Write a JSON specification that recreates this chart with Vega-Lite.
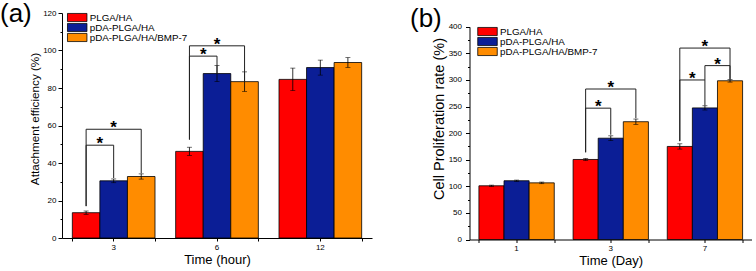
{
  "$schema": "https://vega.github.io/schema/vega-lite/v6.json",
  "autosize": {"type": "pad"},
  "padding": {"left": 0, "top": 0, "right": 0, "bottom": 0},
  "spacing": 97.5,
  "bounds": "flush",
  "background": "white",
  "datasets": {
    "barsA": [
      {"time": "3", "group": "PLGA/HA", "value": 13.5, "lo": 12.6, "hi": 14.4},
      {"time": "3", "group": "pDA-PLGA/HA", "value": 30.5, "lo": 29.5, "hi": 31.5},
      {"time": "3", "group": "pDA-PLGA/HA/BMP-7", "value": 32.8, "lo": 31.4, "hi": 34.2},
      {"time": "6", "group": "PLGA/HA", "value": 46.2, "lo": 44.0, "hi": 48.4},
      {"time": "6", "group": "pDA-PLGA/HA", "value": 87.7, "lo": 83.4, "hi": 92.0},
      {"time": "6", "group": "pDA-PLGA/HA/BMP-7", "value": 83.4, "lo": 78.2, "hi": 88.6},
      {"time": "12", "group": "PLGA/HA", "value": 84.6, "lo": 78.6, "hi": 90.6},
      {"time": "12", "group": "pDA-PLGA/HA", "value": 90.9, "lo": 86.9, "hi": 94.9},
      {"time": "12", "group": "pDA-PLGA/HA/BMP-7", "value": 93.6, "lo": 91.0, "hi": 96.2}
    ],
    "bracketsA": [
      {"time": "3", "br": "a1", "ord": 1, "group": "PLGA/HA", "y": 17},
      {"time": "3", "br": "a1", "ord": 2, "group": "PLGA/HA", "y": 49.5},
      {"time": "3", "br": "a1", "ord": 3, "group": "pDA-PLGA/HA", "y": 49.5},
      {"time": "3", "br": "a1", "ord": 4, "group": "pDA-PLGA/HA", "y": 32},
      {"time": "3", "br": "a2", "ord": 1, "group": "PLGA/HA", "y": 17},
      {"time": "3", "br": "a2", "ord": 2, "group": "PLGA/HA", "y": 58},
      {"time": "3", "br": "a2", "ord": 3, "group": "pDA-PLGA/HA/BMP-7", "y": 58},
      {"time": "3", "br": "a2", "ord": 4, "group": "pDA-PLGA/HA/BMP-7", "y": 34.5},
      {"time": "6", "br": "a3", "ord": 1, "group": "PLGA/HA", "y": 52.5},
      {"time": "6", "br": "a3", "ord": 2, "group": "PLGA/HA", "y": 97},
      {"time": "6", "br": "a3", "ord": 3, "group": "pDA-PLGA/HA", "y": 97},
      {"time": "6", "br": "a3", "ord": 4, "group": "pDA-PLGA/HA", "y": 87.7},
      {"time": "6", "br": "a4", "ord": 1, "group": "PLGA/HA", "y": 52.5},
      {"time": "6", "br": "a4", "ord": 2, "group": "PLGA/HA", "y": 102.5},
      {"time": "6", "br": "a4", "ord": 3, "group": "pDA-PLGA/HA/BMP-7", "y": 102.5},
      {"time": "6", "br": "a4", "ord": 4, "group": "pDA-PLGA/HA/BMP-7", "y": 83.4}
    ],
    "starsA": [
      {"time": "3", "pos": 0.5, "y": 49.5},
      {"time": "3", "pos": 1, "y": 58},
      {"time": "6", "pos": 0.5, "y": 97},
      {"time": "6", "pos": 1, "y": 102.5}
    ],
    "barsB": [
      {"time": "1", "group": "PLGA/HA", "value": 101, "lo": 99.8, "hi": 102.2},
      {"time": "1", "group": "pDA-PLGA/HA", "value": 110.5, "lo": 109.3, "hi": 111.7},
      {"time": "1", "group": "pDA-PLGA/HA/BMP-7", "value": 106.5, "lo": 105.0, "hi": 108.0},
      {"time": "3", "group": "PLGA/HA", "value": 150.5, "lo": 148.5, "hi": 152.5},
      {"time": "3", "group": "pDA-PLGA/HA", "value": 190.5, "lo": 186.0, "hi": 195.0},
      {"time": "3", "group": "pDA-PLGA/HA/BMP-7", "value": 221.5, "lo": 216.5, "hi": 226.5},
      {"time": "7", "group": "PLGA/HA", "value": 175, "lo": 170, "hi": 180},
      {"time": "7", "group": "pDA-PLGA/HA", "value": 247.5, "lo": 243.5, "hi": 251.5},
      {"time": "7", "group": "pDA-PLGA/HA/BMP-7", "value": 298.5, "lo": 296, "hi": 301}
    ],
    "bracketsB": [
      {"time": "3", "br": "b1", "ord": 1, "group": "PLGA/HA", "y": 164},
      {"time": "3", "br": "b1", "ord": 2, "group": "PLGA/HA", "y": 247},
      {"time": "3", "br": "b1", "ord": 3, "group": "pDA-PLGA/HA", "y": 247},
      {"time": "3", "br": "b1", "ord": 4, "group": "pDA-PLGA/HA", "y": 197},
      {"time": "3", "br": "b2", "ord": 1, "group": "PLGA/HA", "y": 164},
      {"time": "3", "br": "b2", "ord": 2, "group": "PLGA/HA", "y": 283},
      {"time": "3", "br": "b2", "ord": 3, "group": "pDA-PLGA/HA/BMP-7", "y": 283},
      {"time": "3", "br": "b2", "ord": 4, "group": "pDA-PLGA/HA/BMP-7", "y": 228},
      {"time": "7", "br": "b3", "ord": 1, "group": "PLGA/HA", "y": 185},
      {"time": "7", "br": "b3", "ord": 2, "group": "PLGA/HA", "y": 300},
      {"time": "7", "br": "b3", "ord": 3, "group": "pDA-PLGA/HA", "y": 300},
      {"time": "7", "br": "b3", "ord": 4, "group": "pDA-PLGA/HA", "y": 252},
      {"time": "7", "br": "b4", "ord": 1, "group": "pDA-PLGA/HA", "y": 300},
      {"time": "7", "br": "b4", "ord": 2, "group": "pDA-PLGA/HA", "y": 327},
      {"time": "7", "br": "b4", "ord": 3, "group": "pDA-PLGA/HA/BMP-7", "y": 327},
      {"time": "7", "br": "b4", "ord": 4, "group": "pDA-PLGA/HA/BMP-7", "y": 301},
      {"time": "7", "br": "b5", "ord": 1, "group": "PLGA/HA", "y": 185},
      {"time": "7", "br": "b5", "ord": 2, "group": "PLGA/HA", "y": 360},
      {"time": "7", "br": "b5", "ord": 3, "group": "pDA-PLGA/HA/BMP-7", "y": 360},
      {"time": "7", "br": "b5", "ord": 4, "group": "pDA-PLGA/HA/BMP-7", "y": 302}
    ],
    "starsB": [
      {"time": "3", "pos": 0.5, "y": 247},
      {"time": "3", "pos": 1, "y": 283},
      {"time": "7", "pos": 0.5, "y": 300},
      {"time": "7", "pos": 1.5, "y": 327},
      {"time": "7", "pos": 1, "y": 360}
    ]
  },
  "resolve": {"scale": {"color": "independent"}, "legend": {"color": "independent"}},
  "hconcat": [
    {
      "width": 310,
      "height": 225,
      "title": {"text": "(a)", "anchor": "start", "frame": "group", "dx": -62, "dy": 38.5, "offset": 0, "baseline": "alphabetic"},
      "resolve": {"scale": {"xOffset": "independent"}, "axis": {"x": "independent", "y": "independent"}},
      "encoding": {
        "x": {
          "field": "time", "type": "nominal", "sort": ["3", "6", "12"],
          "scale": {"domain": ["3", "6", "12"], "paddingInner": 0.2, "paddingOuter": 0.1},
          "axis": null
        }
      },
      "layer": [
        {
          "data": {"name": "barsA"},
          "mark": {"type": "bar", "stroke": "black", "strokeWidth": 0.8},
          "encoding": {
            "x": {
              "field": "time", "type": "nominal", "sort": ["3", "6", "12"],
              "scale": {"domain": ["3", "6", "12"], "paddingInner": 0.2, "paddingOuter": 0.1},
              "axis": {"title": "Time (hour)", "orient": "bottom", "labelAngle": 0, "tickSize": 3, "labelPadding": 2, "titleFontSize": 13, "titlePadding": 2}
            },
            "xOffset": {"field": "group", "type": "nominal", "sort": ["PLGA/HA", "pDA-PLGA/HA", "pDA-PLGA/HA/BMP-7"]},
            "y": {
              "field": "value", "type": "quantitative",
              "scale": {"domain": [0, 120], "nice": false},
              "axis": {"title": "Attachment efficiency (%)", "orient": "left", "values": [0, 20, 40, 60, 80, 100, 120], "tickSize": 4, "labelPadding": 2, "titleFontSize": 11.7, "titlePadding": 2, "titleY": 105.5}
            },
            "color": {
              "field": "group", "type": "nominal",
              "sort": ["PLGA/HA", "pDA-PLGA/HA", "pDA-PLGA/HA/BMP-7"],
              "scale": {"range": ["#FF0000", "#0B1E96", "#FF8C00"]},
              "legend": {"orient": "none", "legendX": 4.7, "legendY": -0.5, "title": null}
            }
          }
        },
        {
          "data": {"name": "barsA"},
          "mark": {"type": "rule", "color": "black", "strokeWidth": 0.8},
          "encoding": {
            "x": {
              "field": "time", "type": "nominal", "sort": ["3", "6", "12"],
              "scale": {"domain": ["3", "6", "12"], "paddingInner": 0.2, "paddingOuter": 0.1},
              "axis": {"orient": "bottom", "title": null, "labels": false, "domain": false, "tickBand": "extent", "tickSize": 3}
            },
            "xOffset": {"field": "group", "type": "nominal", "sort": ["PLGA/HA", "pDA-PLGA/HA", "pDA-PLGA/HA/BMP-7"]},
            "y": {"field": "lo", "type": "quantitative", "axis": {"orient": "left", "title": null, "labels": false, "domain": false, "values": [10, 30, 50, 70, 90, 110], "tickSize": 2}},
            "y2": {"field": "hi"}
          }
        },
        {
          "data": {"name": "barsA"},
          "mark": {"type": "tick", "color": "black", "size": 5, "thickness": 0.8, "orient": "horizontal"},
          "encoding": {
            "xOffset": {"field": "group", "type": "nominal", "sort": ["PLGA/HA", "pDA-PLGA/HA", "pDA-PLGA/HA/BMP-7"]},
            "y": {"field": "lo", "type": "quantitative", "axis": null}
          }
        },
        {
          "data": {"name": "barsA"},
          "mark": {"type": "tick", "color": "black", "size": 5, "thickness": 0.8, "orient": "horizontal"},
          "encoding": {
            "xOffset": {"field": "group", "type": "nominal", "sort": ["PLGA/HA", "pDA-PLGA/HA", "pDA-PLGA/HA/BMP-7"]},
            "y": {"field": "hi", "type": "quantitative", "axis": null}
          }
        },
        {
          "data": {"name": "bracketsA"},
          "mark": {"type": "line", "color": "#222222", "strokeWidth": 1},
          "encoding": {
            "xOffset": {"field": "group", "type": "nominal", "sort": ["PLGA/HA", "pDA-PLGA/HA", "pDA-PLGA/HA/BMP-7"]},
            "y": {"field": "y", "type": "quantitative", "axis": null},
            "detail": {"field": "br"},
            "order": {"field": "ord", "type": "quantitative"}
          }
        },
        {
          "data": {"name": "starsA"},
          "mark": {"type": "text", "text": "*", "fontSize": 17, "fontWeight": "bold", "baseline": "alphabetic", "dy": 4, "font": "Liberation Sans", "color": "black"},
          "encoding": {
            "xOffset": {"field": "pos", "type": "quantitative", "scale": {"domain": [-0.5, 2.5]}},
            "y": {"field": "y", "type": "quantitative", "axis": null}
          }
        }
      ]
    },
    {
      "width": 282.5,
      "height": 226.5,
      "title": {"text": "(b)", "anchor": "start", "frame": "group", "dx": -59.5, "dy": 39.5, "offset": 0, "baseline": "alphabetic"},
      "resolve": {"scale": {"xOffset": "independent"}, "axis": {"x": "independent", "y": "independent"}},
      "encoding": {
        "x": {
          "field": "time", "type": "nominal", "sort": ["1", "3", "7"],
          "scale": {"domain": ["1", "3", "7"], "paddingInner": 0.2, "paddingOuter": 0.1},
          "axis": null
        }
      },
      "layer": [
        {
          "data": {"name": "barsB"},
          "mark": {"type": "bar", "stroke": "black", "strokeWidth": 0.8},
          "encoding": {
            "x": {
              "field": "time", "type": "nominal", "sort": ["1", "3", "7"],
              "scale": {"domain": ["1", "3", "7"], "paddingInner": 0.2, "paddingOuter": 0.1},
              "axis": {"title": "Time (Day)", "orient": "bottom", "labelAngle": 0, "tickSize": 3, "labelPadding": 2, "titleFontSize": 13, "titlePadding": 2}
            },
            "xOffset": {"field": "group", "type": "nominal", "sort": ["PLGA/HA", "pDA-PLGA/HA", "pDA-PLGA/HA/BMP-7"]},
            "y": {
              "field": "value", "type": "quantitative",
              "scale": {"domain": [0, 400], "nice": false, "range": [226.5, 13.8]},
              "axis": {"title": "Cell Proliferation rate (%)", "orient": "left", "values": [0, 50, 100, 150, 200, 250, 300, 350, 400], "tickSize": 4, "labelPadding": 4, "titleFontSize": 14.5, "titlePadding": 2, "titleY": 105.5}
            },
            "color": {
              "field": "group", "type": "nominal",
              "sort": ["PLGA/HA", "pDA-PLGA/HA", "pDA-PLGA/HA/BMP-7"],
              "scale": {"range": ["#FF0000", "#0B1E96", "#FF8C00"]},
              "legend": {"orient": "none", "legendX": 7.5, "legendY": 13.5, "title": null}
            }
          }
        },
        {
          "data": {"name": "barsB"},
          "mark": {"type": "rule", "color": "black", "strokeWidth": 0.8},
          "encoding": {
            "x": {
              "field": "time", "type": "nominal", "sort": ["1", "3", "7"],
              "scale": {"domain": ["1", "3", "7"], "paddingInner": 0.2, "paddingOuter": 0.1},
              "axis": {"orient": "bottom", "title": null, "labels": false, "domain": false, "tickBand": "extent", "tickSize": 3}
            },
            "xOffset": {"field": "group", "type": "nominal", "sort": ["PLGA/HA", "pDA-PLGA/HA", "pDA-PLGA/HA/BMP-7"]},
            "y": {"field": "lo", "type": "quantitative", "axis": {"orient": "left", "title": null, "labels": false, "domain": false, "values": [25, 75, 125, 175, 225, 275, 325, 375], "tickSize": 2}},
            "y2": {"field": "hi"}
          }
        },
        {
          "data": {"name": "barsB"},
          "mark": {"type": "tick", "color": "black", "size": 5, "thickness": 0.8, "orient": "horizontal"},
          "encoding": {
            "xOffset": {"field": "group", "type": "nominal", "sort": ["PLGA/HA", "pDA-PLGA/HA", "pDA-PLGA/HA/BMP-7"]},
            "y": {"field": "lo", "type": "quantitative", "axis": null}
          }
        },
        {
          "data": {"name": "barsB"},
          "mark": {"type": "tick", "color": "black", "size": 5, "thickness": 0.8, "orient": "horizontal"},
          "encoding": {
            "xOffset": {"field": "group", "type": "nominal", "sort": ["PLGA/HA", "pDA-PLGA/HA", "pDA-PLGA/HA/BMP-7"]},
            "y": {"field": "hi", "type": "quantitative", "axis": null}
          }
        },
        {
          "data": {"name": "bracketsB"},
          "mark": {"type": "line", "color": "#222222", "strokeWidth": 1},
          "encoding": {
            "xOffset": {"field": "group", "type": "nominal", "sort": ["PLGA/HA", "pDA-PLGA/HA", "pDA-PLGA/HA/BMP-7"]},
            "y": {"field": "y", "type": "quantitative", "axis": null},
            "detail": {"field": "br"},
            "order": {"field": "ord", "type": "quantitative"}
          }
        },
        {
          "data": {"name": "starsB"},
          "mark": {"type": "text", "text": "*", "fontSize": 17, "fontWeight": "bold", "baseline": "alphabetic", "dy": 4, "font": "Liberation Sans", "color": "black"},
          "encoding": {
            "xOffset": {"field": "pos", "type": "quantitative", "scale": {"domain": [-0.5, 2.5]}},
            "y": {"field": "y", "type": "quantitative", "axis": null}
          }
        }
      ]
    }
  ],
  "config": {
    "font": "Liberation Sans",
    "view": {"stroke": null},
    "title": {"font": "Liberation Sans", "fontSize": 26, "fontWeight": "normal", "color": "black"},
    "axis": {
      "grid": false,
      "labelOverlap": false,
      "domainColor": "black",
      "domainWidth": 1,
      "tickColor": "black",
      "tickWidth": 1,
      "labelFont": "Liberation Sans",
      "labelFontSize": 8,
      "labelColor": "black",
      "titleFont": "Liberation Sans",
      "titleFontWeight": "normal",
      "titleColor": "black"
    },
    "legend": {
      "labelFont": "Liberation Sans",
      "labelFontSize": 9.8,
      "labelColor": "black",
      "symbolType": "M-1,-0.42H1V0.42H-1Z",
      "symbolSize": 380,
      "symbolStrokeColor": "black",
      "symbolStrokeWidth": 0.8,
      "symbolOpacity": 1,
      "clipHeight": 10,
      "rowPadding": 0,
      "labelOffset": 2,
      "padding": 0
    }
  }
}
